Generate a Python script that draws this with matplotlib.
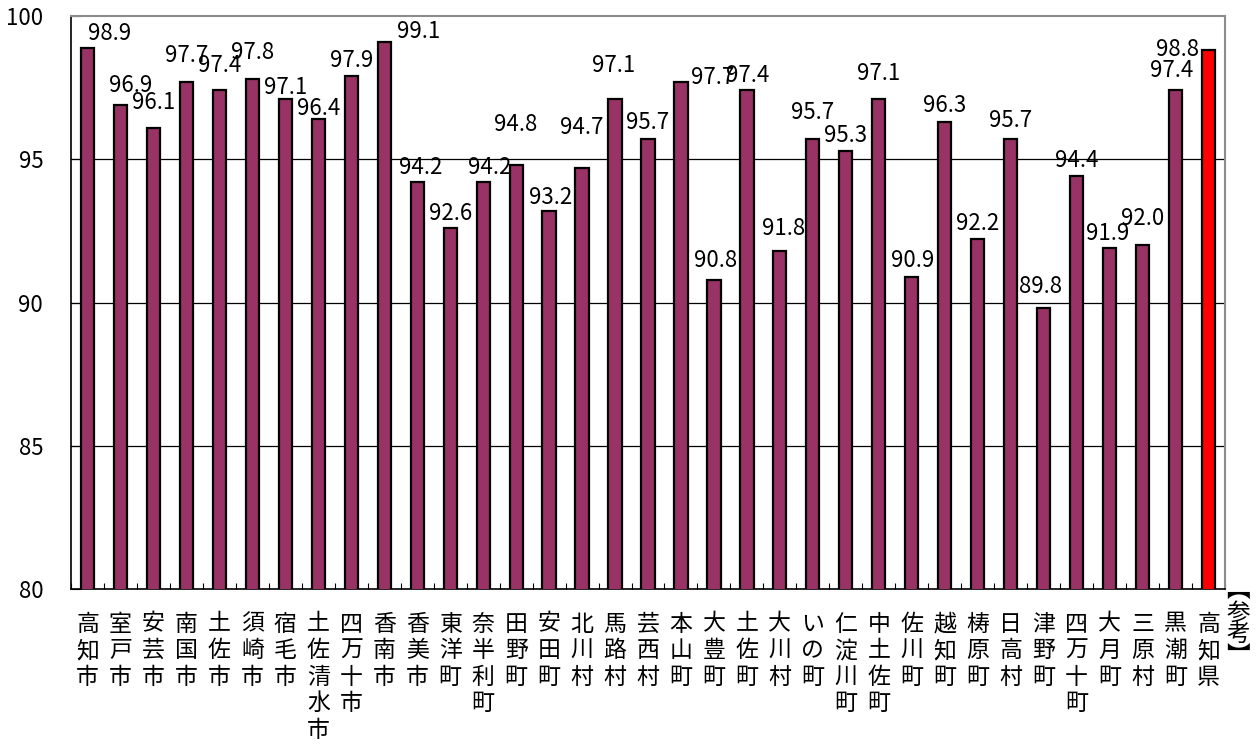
import matplotlib
matplotlib.use("Agg")
import matplotlib.pyplot as plt
import numpy as np

plt.rcParams['font.family'] = ['Noto Sans CJK JP', 'DejaVu Sans']

categories = ["高知市", "室戸市", "安芸市", "南国市", "土佐市", "須崎市", "宿毛市", "土佐清水市",
              "四万十市", "香南市", "香美市", "東洋町", "奈半利町", "田野町", "安田町", "北川村",
              "馬路村", "芸西村", "本山町", "大豊町", "土佐町", "大川村", "いの町", "仁淀川町",
              "中土佐町", "佐川町", "越知町", "梼原町", "日高村", "津野町", "四万十町", "大月町",
              "三原村", "黒潮町", "高知県"]
values = [98.9, 96.9, 96.1, 97.7, 97.4, 97.8, 97.1, 96.4, 97.9, 99.1,
          94.2, 92.6, 94.2, 94.8, 93.2, 94.7, 97.1, 95.7, 97.7, 90.8,
          97.4, 91.8, 95.7, 95.3, 97.1, 90.9, 96.3, 92.2, 95.7, 89.8,
          94.4, 91.9, 92.0, 97.4, 98.8]
yticks = [80, 85, 90, 95, 100]

# label placement offsets (layout only): dx in category units, dy in value units
label_dx = [0.67, 0.3, 0, 0, 0, 0, 0, 0, 0, 1.03,
            0.1, 0, 0.2, 0, 0.05, 0, -0.05, 0, 0.97, 0.05,
            0.03, 0.1, 0, 0, 0, 0.03, 0, 0, 0, -0.1,
            0, -0.06, 0, -0.12, -0.94]
label_dy = [0.49, 0.68, 0.89, 0.93, 0.88, 0.93, 0.41, 0.38, 0.55, 0.36,
            0.52, 0.51, 0.52, 1.42, 0.47, 1.41, 1.18, 0.59, 0.16, 0.68,
            0.53, 0.79, 0.94, 0.54, 0.9, 0.58, 0.58, 0.57, 0.66, 0.77,
            0.56, 0.52, 0.94, 0.7, 0.03]

fig = plt.figure(figsize=(12.57, 7.48), dpi=100)
ax = fig.add_axes([71/1257, 1 - 589/748, (1225 - 71)/1257, (589 - 16)/748])

x = np.arange(len(categories))
colors = ['#993366'] * (len(categories) - 1) + ['#FF0000']
ax.bar(x, values, width=0.4, color=colors, edgecolor='black', linewidth=1.6, zorder=3)

ax.set_ylim(80, 100)
ax.set_xlim(-0.5, len(categories) - 0.5)
ax.set_yticks(yticks)
ax.set_yticklabels([str(t) for t in yticks], fontsize=16)
for t in [85, 90, 95]:
    ax.axhline(t, color='black', linewidth=0.9, zorder=1)

ax.set_xticks(x)
ax.set_xticklabels(["\n".join(c) for c in categories], fontsize=16.5, linespacing=1.2)
ax.set_xticks(np.arange(len(categories) + 1) - 0.5, minor=True)
ax.tick_params(axis='x', which='major', length=0, pad=17)
ax.tick_params(axis='x', which='minor', direction='in', length=4, width=0.8)
ax.tick_params(axis='y', direction='in', length=7, width=0.8, pad=20)

for s in ['left', 'bottom']:
    ax.spines[s].set_color('black')
    ax.spines[s].set_linewidth(1.2)
for s in ['top', 'right']:
    ax.spines[s].set_color('#8c8c8c')
    ax.spines[s].set_linewidth(1.5)

for i, v in enumerate(values):
    ax.text(i + label_dx[i], v + label_dy[i], f"{v:.1f}", ha='center', va='center',
            fontsize=16, color='black', zorder=4)

# 【参考】 vertical label
fig.text(1238/1257, 1 - 624/748, "︻\n参\n考\n︼", ha='center', va='center',
         fontsize=17, linespacing=0.95)

fig.savefig("out.png", dpi=100)
